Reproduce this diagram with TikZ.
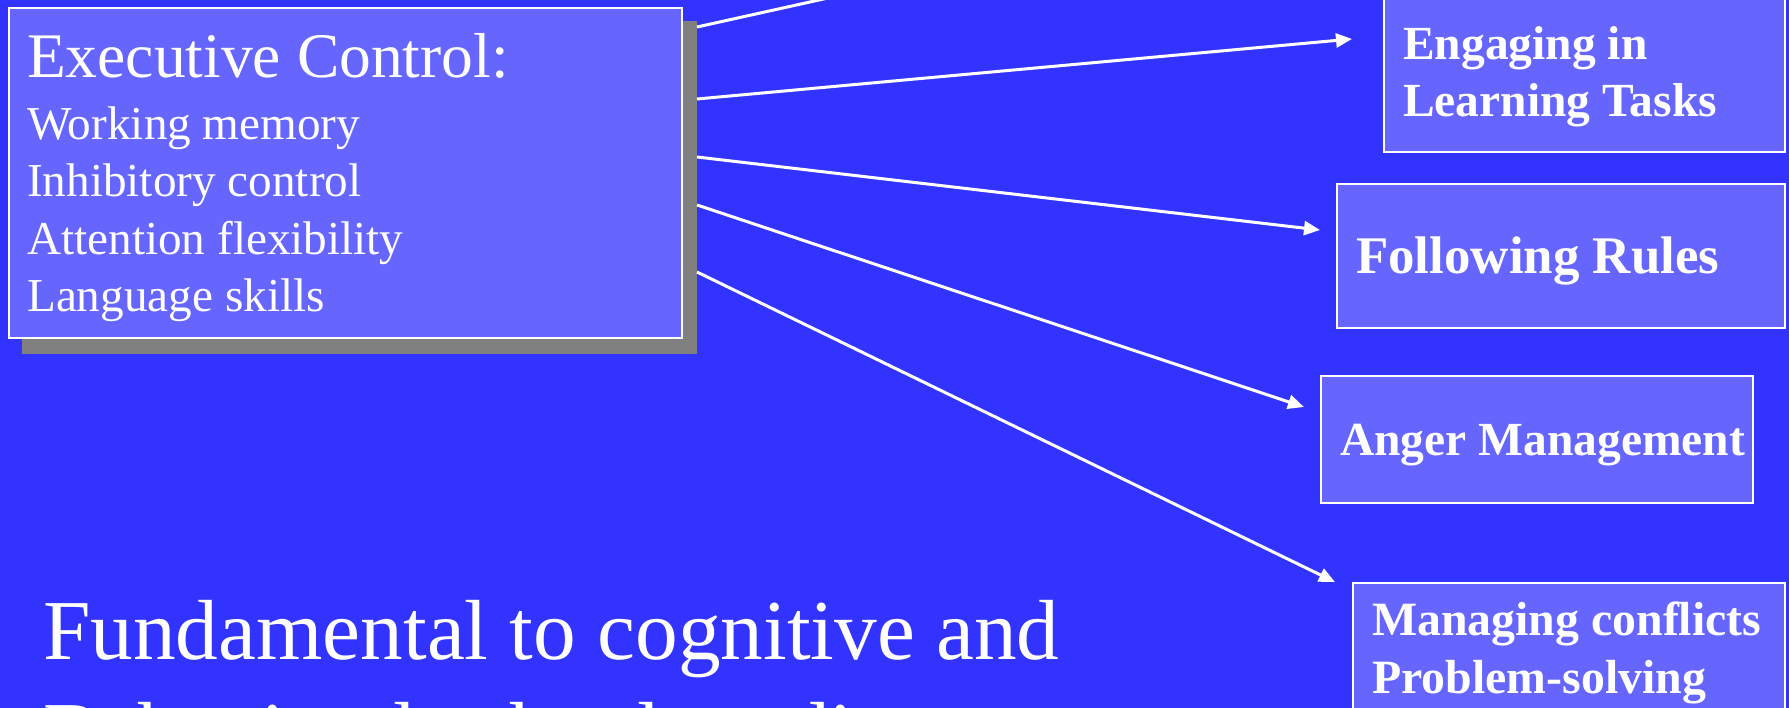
\documentclass[tikz,border=0pt]{standalone}
\usepackage{fontspec}
\setmainfont{Liberation Serif}
\usetikzlibrary{arrows.meta}
\definecolor{bg}{HTML}{3333FF}
\definecolor{boxfill}{HTML}{6666FF}
\definecolor{shadowgray}{HTML}{808080}
\tikzset{
  box/.style={draw=white, line width=2pt, fill=boxfill, inner sep=0pt, anchor=north west},
  shadowbox/.style={fill=shadowgray, inner sep=0pt, anchor=north west},
  txt/.style={text=white, inner sep=0pt, anchor=base west},
  conn/.style={draw=white, line width=3pt, -{Triangle[length=16pt,width=14pt]}},
  plainconn/.style={draw=white, line width=3pt},
  ectitle/.style={txt, font=\fontsize{63.5}{70}\selectfont},
  ecitem/.style={txt, font=\fontsize{47.2}{57}\selectfont},
  outtxt/.style={txt, font=\bfseries\fontsize{47.5}{57}\selectfont},
  bigtxt/.style={txt, font=\fontsize{85.3}{102}\selectfont},
}
\begin{document}
\begin{tikzpicture}[x=1pt,y=-1pt]
\useasboundingbox (0,0) rectangle (1789,708);
\clip (0,0) rectangle (1789,708);
\fill[bg] (0,0) rectangle (1789,708);

% Executive control box with shadow
\node[shadowbox, minimum width=675pt, minimum height=333pt] (shadow) at (22,21) {};
\node[box, minimum width=673pt, minimum height=330pt] (ec) at (8,7) {};
\node[ectitle] (ect) at (27,78) {Executive Control:};
\node[ecitem] (ec1) at (27,140) {Working memory};
\node[ecitem] (ec2) at (27,197) {Inhibitory control};
\node[ecitem] (ec3) at (27,255) {Attention flexibility};
\node[ecitem] (ec4) at (27,312) {Language skills};

% Outcome boxes
\node[box, minimum width=401pt, minimum height=161pt] (eng) at (1383,-10) {};
\node[outtxt] (eng1) at (1403,60) {Engaging in};
\node[outtxt] (eng2) at (1403,117) {Learning Tasks};

\node[box, minimum width=448pt, minimum height=144pt] (fol) at (1336,183) {};
\node[txt, font=\bfseries\fontsize{52.9}{63}\selectfont] (folt) at (1356,274) {Following Rules};

\node[box, minimum width=432pt, minimum height=127pt] (ang) at (1320,375) {};
\node[outtxt] (angt) at (1340,456) {Anger Management};

\node[box, minimum width=432pt, minimum height=168pt] (man) at (1352,582) {};
\node[outtxt, font=\bfseries\fontsize{47.8}{57}\selectfont] (man1) at (1372,635) {Managing conflicts};
\node[outtxt, font=\bfseries\fontsize{47.8}{57}\selectfont] (man2) at (1372,693) {Problem-solving};

% Bottom statement
\node[bigtxt] (fund1) at (43,659) {Fundamental to cognitive and};
\node[bigtxt] (fund2) at (43,761) {Behavioral school readiness};

% Connectors
\coordinate (s1) at (697,27);
\coordinate (s2) at (697,99);
\coordinate (s3) at (697,157);
\coordinate (s4) at (697,205);
\coordinate (s5) at (697,272);
\coordinate (e1) at (1063,-54);
\coordinate (e2) at (1352,39);
\coordinate (e3) at (1320,230);
\coordinate (e4) at (1304,407);
\coordinate (e5) at (1335,582);
\draw[plainconn] (s1) -- (e1);
\draw[conn] (s2) -- (e2);
\draw[conn] (s3) -- (e3);
\draw[conn] (s4) -- (e4);
\draw[conn] (s5) -- (e5);
\end{tikzpicture}
\end{document}
